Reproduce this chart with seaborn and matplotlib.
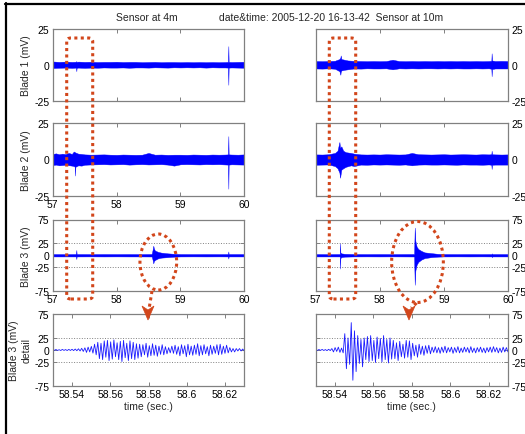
import numpy as np
import pandas as pd
import matplotlib
matplotlib.use("Agg")
import matplotlib.pyplot as plt
import seaborn as sns
from matplotlib.patches import FancyBboxPatch, Ellipse, Polygon
from matplotlib.lines import Line2D

sns.set_theme(style="white")
plt.rcParams["font.family"] = ["Liberation Sans", "DejaVu Sans"]
plt.rcParams["axes.unicode_minus"] = False

# ---------------- data (envelopes: time, upper, lower in mV)
left_blade1 = [(57.0, 2.3, -2.3), (57.1, 2.0, -2.1), (57.2, 2.2, -2.0), (57.3, 2.0, -2.2),
               (57.365, 2.1, -2.0), (57.37, 2.6, -4.5), (57.375, 2.0, -2.1), (57.4, 2.2, -2.0),
               (57.5, 2.0, -2.2), (57.6, 2.1, -2.0), (57.7, 1.9, -2.1), (57.8, 2.0, -1.9),
               (57.9, 2.0, -2.0), (58.0, 2.1, -2.0), (58.1, 1.9, -1.9), (58.2, 2.0, -2.1),
               (58.3, 2.0, -1.9), (58.4, 1.8, -1.9), (58.5, 1.9, -2.0), (58.6, 2.0, -1.8),
               (58.7, 1.8, -1.9), (58.8, 1.9, -2.0), (58.9, 1.9, -1.8), (59.0, 1.8, -1.9),
               (59.1, 1.9, -1.8), (59.2, 1.8, -1.9), (59.3, 1.9, -1.8), (59.4, 1.8, -2.0),
               (59.5, 1.9, -1.8), (59.6, 1.8, -1.9), (59.7, 1.9, -1.9), (59.745, 2.0, -2.0),
               (59.75, 13.0, -14.0), (59.755, 2.0, -2.0), (59.8, 1.9, -1.9), (59.9, 2.0, -2.0),
               (60.0, 2.1, -2.1)]
left_blade2 = [(57.0, 3.8, -3.8), (57.05, 4.2, -3.5), (57.1, 3.6, -4.0), (57.15, 4.0, -3.8),
               (57.2, 3.7, -3.6), (57.25, 4.5, -3.9), (57.3, 3.8, -4.2), (57.33, 5.5, -4.5),
               (57.345, 5.0, -5.0), (57.35, 5.0, -11.0), (57.355, 4.8, -5.0), (57.4, 4.0, -4.0),
               (57.45, 3.8, -4.2), (57.5, 3.5, -3.6), (57.6, 3.3, -3.4), (57.7, 3.4, -3.3),
               (57.8, 3.5, -3.2), (57.9, 3.3, -3.4), (58.0, 3.2, -3.3), (58.1, 3.4, -3.2),
               (58.2, 3.3, -3.5), (58.3, 3.2, -3.3), (58.4, 3.3, -3.2), (58.5, 4.5, -3.4),
               (58.6, 3.3, -3.3), (58.7, 3.4, -3.2), (58.8, 3.2, -3.5), (58.9, 3.3, -4.2),
               (59.0, 3.3, -3.3), (59.1, 3.2, -3.2), (59.2, 3.4, -3.3), (59.3, 3.3, -3.4),
               (59.4, 3.2, -3.2), (59.5, 3.4, -3.3), (59.6, 3.3, -3.2), (59.7, 3.4, -3.4),
               (59.745, 3.5, -3.5), (59.75, 16.0, -20.0), (59.755, 3.5, -3.5), (59.8, 3.4, -3.3),
               (59.9, 3.3, -3.4), (60.0, 3.5, -3.5)]
left_blade3 = [(57.0, 2.5, -2.5), (57.2, 2.4, -2.5), (57.365, 2.5, -2.5), (57.37, 11.0, -8.0),
               (57.375, 2.5, -2.5), (57.6, 2.4, -2.4), (57.8, 2.5, -2.5), (58.0, 2.4, -2.4),
               (58.2, 2.5, -2.5), (58.4, 2.4, -2.5), (58.55, 2.6, -2.6), (58.565, 12.0, -10.0),
               (58.575, 20.0, -17.0), (58.585, 14.0, -12.0), (58.6, 10.0, -10.0), (58.65, 7.0, -6.5),
               (58.7, 5.5, -5.0), (58.8, 4.0, -4.0), (58.9, 3.0, -3.0), (59.0, 2.5, -2.5),
               (59.2, 2.4, -2.4), (59.4, 2.5, -2.5), (59.6, 2.4, -2.4), (59.745, 2.5, -2.5),
               (59.75, 8.0, -7.0), (59.755, 2.5, -2.5), (60.0, 2.5, -2.5)]
right_blade1 = [(57.0, 2.6, -2.6), (57.1, 2.5, -2.7), (57.2, 2.6, -2.5), (57.3, 2.8, -2.8),
                (57.37, 4.0, -4.5), (57.385, 5.0, -7.0), (57.39, 6.5, -5.0), (57.4, 4.0, -4.0),
                (57.45, 3.5, -3.5), (57.5, 3.0, -3.2), (57.6, 2.7, -2.6), (57.7, 2.6, -2.7),
                (57.8, 2.5, -2.5), (57.9, 2.6, -2.6), (58.0, 2.5, -2.6), (58.1, 2.6, -2.5),
                (58.2, 3.5, -3.2), (58.3, 2.6, -2.5), (58.4, 2.5, -2.6), (58.5, 2.6, -2.5),
                (58.6, 2.5, -2.6), (58.7, 2.6, -2.5), (58.8, 2.5, -2.5), (58.9, 2.6, -2.6),
                (59.0, 2.5, -2.5), (59.1, 2.6, -2.6), (59.2, 2.5, -2.5), (59.3, 2.6, -2.6),
                (59.4, 2.5, -2.6), (59.5, 2.6, -2.5), (59.6, 2.5, -2.6), (59.7, 2.6, -2.5),
                (59.74, 2.8, -2.8), (59.745, 8.0, -8.0), (59.75, 3.0, -3.0), (59.8, 2.6, -2.6),
                (59.9, 2.7, -2.6), (60.0, 2.6, -2.6)]
right_blade2 = [(57.0, 3.5, -3.6), (57.1, 3.4, -3.5), (57.2, 3.6, -3.4), (57.3, 4.5, -4.5),
                (57.34, 6.0, -6.0), (57.37, 12.0, -9.0), (57.38, 8.0, -12.5), (57.4, 9.0, -7.0),
                (57.43, 6.0, -6.0), (57.47, 5.0, -5.0), (57.55, 4.5, -4.0), (57.6, 4.0, -4.5),
                (57.7, 3.5, -3.5), (57.8, 3.4, -3.6), (57.9, 3.5, -3.4), (58.0, 3.4, -3.5),
                (58.1, 3.6, -3.4), (58.2, 3.5, -3.5), (58.3, 3.4, -3.6), (58.4, 3.5, -3.4),
                (58.5, 4.5, -4.0), (58.6, 3.6, -3.5), (58.7, 3.5, -3.4), (58.8, 3.4, -3.5),
                (58.9, 3.5, -3.5), (59.0, 3.6, -3.4), (59.1, 3.4, -3.5), (59.2, 3.5, -3.6),
                (59.3, 3.6, -3.4), (59.4, 3.5, -3.5), (59.5, 3.4, -3.5), (59.6, 3.6, -3.6),
                (59.7, 3.5, -3.4), (59.74, 3.6, -3.6), (59.745, 6.0, -6.5), (59.75, 3.6, -3.6),
                (59.8, 3.5, -3.5), (59.9, 3.4, -3.5), (60.0, 3.5, -3.5)]
right_blade3 = [(57.0, 2.5, -2.5), (57.2, 2.4, -2.5), (57.375, 2.5, -2.5), (57.38, 25.0, -28.0),
                (57.385, 6.0, -6.0), (57.4, 4.0, -4.0), (57.45, 3.0, -3.0), (57.6, 2.5, -2.5),
                (57.8, 2.4, -2.4), (58.0, 2.5, -2.5), (58.2, 2.4, -2.4), (58.4, 2.5, -2.5),
                (58.535, 2.6, -2.6), (58.545, 58.0, -62.0), (58.555, 30.0, -32.0), (58.575, 18.0, -20.0),
                (58.6, 13.0, -14.0), (58.65, 9.0, -9.0), (58.7, 6.0, -6.0), (58.8, 4.5, -4.0),
                (58.9, 3.0, -3.0), (59.0, 2.5, -2.5), (59.2, 2.4, -2.4), (59.4, 2.5, -2.5),
                (59.6, 2.4, -2.4), (59.745, 2.5, -2.5), (59.75, 4.0, -4.0), (59.755, 2.5, -2.5),
                (60.0, 2.5, -2.5)]

# detail windows: successive extremes of the oscillation (mV), 58.53 s .. 58.63 s
left_detail = [0.8, -0.7, 1.0, -0.9, 0.6, -1.0, 1.2, -0.8, 0.9, -1.1, 1.3, -1.0, 1.5, -1.2, 2.0, -1.5, 2.5, -2.0,
               3.5, -3.0, 4.5, -5.0, 6.0, -4.0, 7.5, -6.5,
               12, -10, 16, -18, 14, -20, 19, -15, 20, -22, 17, -19, 21, -14, 15, -20, 18, -24, 20, -16,
               14, -22, 19, -18, 16, -20, 13, -17,
               12, -14, 11, -10, 14, -15, 9, -12, 13, -11, 10, -13, 8, -9, 11, -10, 7, -8,
               5, -6, 8, -7, 10, -9, 7, -12, 11, -8, 9, -14, 12, -10, 8, -11, 10, -9, 13, -12, 9, -10,
               11, -8, 7, -12, 10, -9, 8, -7, 11, -10, 12, -9, 8, -7,
               10, -6, 5, -4, 3, -4, 3, -2, 3, -2, 2, -2]
right_detail = [0.8, -0.9, 1.0, -0.8, 1.2, -1.0, 0.9, -1.3, 1.5, -1.2,
                3, -4, 5, -3, 6, -5, 4, -6,
                34, -39, 25, -30, 57, -63, 40, -45,
                30, -28, 22, -35, 25, -20, 28, -24, 30, -22, 20, -26, 27, -18, 24, -25, 30, -20, 22, -27, 25, -19,
                20, -18, 15, -22, 18, -14, 12, -17, 20, -15, 19, -20,
                14, -12, 10, -15, 12, -9, 8, -11, 9, -7, 10, -8,
                6, -5, 7, -6, 5, -7, 6, -5, 8, -6, 5, -4, 6, -7, 5, -5, 7, -6, 4, -5, 6, -4, 5, -6,
                7, -5, 4, -6, 5, -4, 6, -5, 4, -6, 5, -4, 6, -5, 7, -4, 5, -6, 4, -5, 6, -4, 5, -4]
detail_start, detail_end = 58.53, 58.63

main_xticks = [57, 58, 59, 60]
detail_xticks = [58.54, 58.56, 58.58, 58.60, 58.62]
detail_xticklabels = ["58.54", "58.56", "58.58", "58.6", "58.62"]
blade12_yticks = [-25, 0, 25]
blade3_yticks = [-75, -25, 0, 25, 75]
ylabels = ["Blade 1 (mV)", "Blade 2 (mV)", "Blade 3 (mV)", "Blade 3 (mV)\ndetail"]

# ---------------- figure
W, H = 525, 435
fig = plt.figure(figsize=(W / 100, H / 100), dpi=100)
fig.patch.set_facecolor("white")

rows = [(30, 101.5), (124, 197), (220.5, 292), (315, 387)]
cols = [(52.7, 244.3), (315.7, 508.0)]
GRAY = "#808080"
BLUE = "#0000ff"
RED = "#d2461b"
FS = 7.5


def add_ax(x0, x1, y0, y1):
    return fig.add_axes([x0 / W, 1 - y1 / H, (x1 - x0) / W, (y1 - y0) / H])


def style(ax, right):
    for s in ax.spines.values():
        s.set_color(GRAY)
        s.set_linewidth(0.9)
    ax.tick_params(direction="in", length=3, width=0.7, color=GRAY, labelsize=FS,
                   labelcolor="black", top=True, bottom=True, left=True, right=True,
                   labelleft=not right, labelright=right, pad=2.5)
    ax.set_facecolor("white")


signals = [[left_blade1, left_blade2, left_blade3], [right_blade1, right_blade2, right_blade3]]
details = [left_detail, right_detail]

for c, (x0, x1) in enumerate(cols):
    right = c == 1
    for r in range(3):
        ax = add_ax(x0, x1, *rows[r])
        df = pd.DataFrame(signals[c][r], columns=["t", "hi", "lo"])
        ax.fill_between(df["t"], df["lo"], df["hi"], color=BLUE, lw=0.3, edgecolor=BLUE)
        sns.lineplot(x=df["t"], y=(df["hi"] + df["lo"]) / 2, ax=ax, color=BLUE, lw=0.4,
                     estimator=None)
        ax.set_xlim(57, 60)
        ax.set_xticks(main_xticks)
        if r < 2:
            ax.set_ylim(-25, 25)
            ax.set_yticks(blade12_yticks)
        else:
            ax.set_ylim(-75, 75)
            ax.set_yticks(blade3_yticks)
            for g in (-25, 25):
                ax.axhline(g, color=GRAY, ls=":", lw=0.7, zorder=0)
        style(ax, right)
        show_x = (r == 2) or (r == 1 and not right)
        ax.tick_params(labelbottom=show_x)
        ax.set_xlabel("")
        if not right:
            ax.set_ylabel(ylabels[r], fontsize=FS, labelpad=2)
        else:
            ax.set_ylabel("")

    # detail panel
    ax = add_ax(x0, x1, *rows[3])
    vals = details[c]
    t = np.linspace(detail_start, detail_end, len(vals))
    sns.lineplot(x=t, y=vals, ax=ax, color="#1a1aff", lw=0.6, estimator=None)
    ax.set_xlim(detail_start, detail_end)
    ax.set_ylim(-75, 75)
    ax.set_yticks(blade3_yticks)
    ax.set_xticks(detail_xticks)
    ax.set_xticklabels(detail_xticklabels)
    for g in (-25, 25):
        ax.axhline(g, color=GRAY, ls=":", lw=0.7, zorder=0)
    style(ax, right)
    ax.set_xlabel("time (sec.)", fontsize=FS, labelpad=1)
    if not right:
        ax.set_ylabel(ylabels[3], fontsize=FS, labelpad=2, linespacing=1.25)
    else:
        ax.set_ylabel("")

# ---------------- titles
fig.text(146.7 / W, 1 - 18 / H, "Sensor at 4m", ha="center", va="center", fontsize=FS)
fig.text(331.5 / W, 1 - 18 / H, "date&time: 2005-12-20 16-13-42  Sensor at 10m",
         ha="center", va="center", fontsize=FS)

# ---------------- red dotted annotations (figure pixel space)
def fx(x):
    return x / W


def fy(y):
    return 1 - y / H


dot = dict(edgecolor=RED, lw=2.2, linestyle=(0, (1, 1.1)), fill=False,
           transform=fig.transFigure)
for (rx0, rx1) in [(66.7, 92.7), (329.3, 355.7)]:
    fig.add_artist(FancyBboxPatch((fx(rx0), fy(300)), (rx1 - rx0) / W, (300 - 39) / H,
                                  boxstyle="round,pad=0,rounding_size=0.008", **dot))
for (cx, cy, ew, eh) in [(158.3, 263, 36.7, 56), (417.5, 263, 51.7, 81)]:
    fig.add_artist(Ellipse((fx(cx), fy(cy)), ew / W, eh / H, **dot))

for (sx, sy, tx, ty) in [(152, 292, 148, 321), (416.5, 304, 409, 321)]:
    fig.add_artist(Line2D([fx(sx), fx(tx + (sx - tx) * 0.3)], [fy(sy), fy(309)],
                          color=RED, lw=2.2, linestyle=(0, (1, 1.1)),
                          transform=fig.transFigure))
    head = [(tx - 6, 307), (tx, 311), (tx + 6, 307), (tx, ty)]
    fig.add_artist(Polygon([(fx(a), fy(b)) for a, b in head], closed=True,
                           facecolor=RED, edgecolor=RED, lw=0.5,
                           transform=fig.transFigure))

# ---------------- frame lines
fig.add_artist(Line2D([fx(6), fx(6)], [fy(4), fy(435)], color="black", lw=1.6,
                      transform=fig.transFigure))
fig.add_artist(Line2D([fx(5), fx(525)], [fy(5), fy(5)], color="black", lw=1.6,
                      transform=fig.transFigure))

fig.savefig("out.png", dpi=100)
